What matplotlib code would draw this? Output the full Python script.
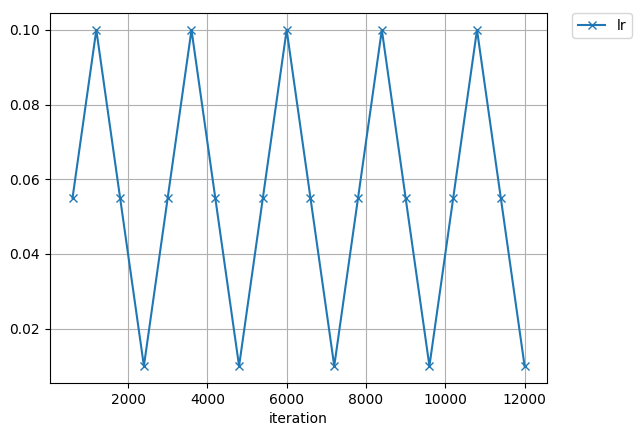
import matplotlib
matplotlib.use('Agg')
import matplotlib.pyplot as plt

iterations = [600, 1200, 1800, 2400, 3000, 3600, 4200, 4800, 5400, 6000,
              6600, 7200, 7800, 8400, 9000, 9600, 10200, 10800, 11400, 12000]
lr = [0.055, 0.1, 0.055, 0.01, 0.055, 0.1, 0.055, 0.01, 0.055, 0.1,
      0.055, 0.01, 0.055, 0.1, 0.055, 0.01, 0.055, 0.1, 0.055, 0.01]

fig = plt.figure(figsize=(6.4, 4.36), dpi=100)
ax = fig.add_subplot(111)
ax.plot(iterations, lr, marker='x', label='lr')
ax.set_xlabel('iteration')
ax.grid(True)
ax.legend(bbox_to_anchor=(1.05, 1), loc=2, borderaxespad=0.)
fig.subplots_adjust(left=0.078, right=0.855, top=0.970, bottom=0.122)
fig.savefig('out.png', dpi=100)
